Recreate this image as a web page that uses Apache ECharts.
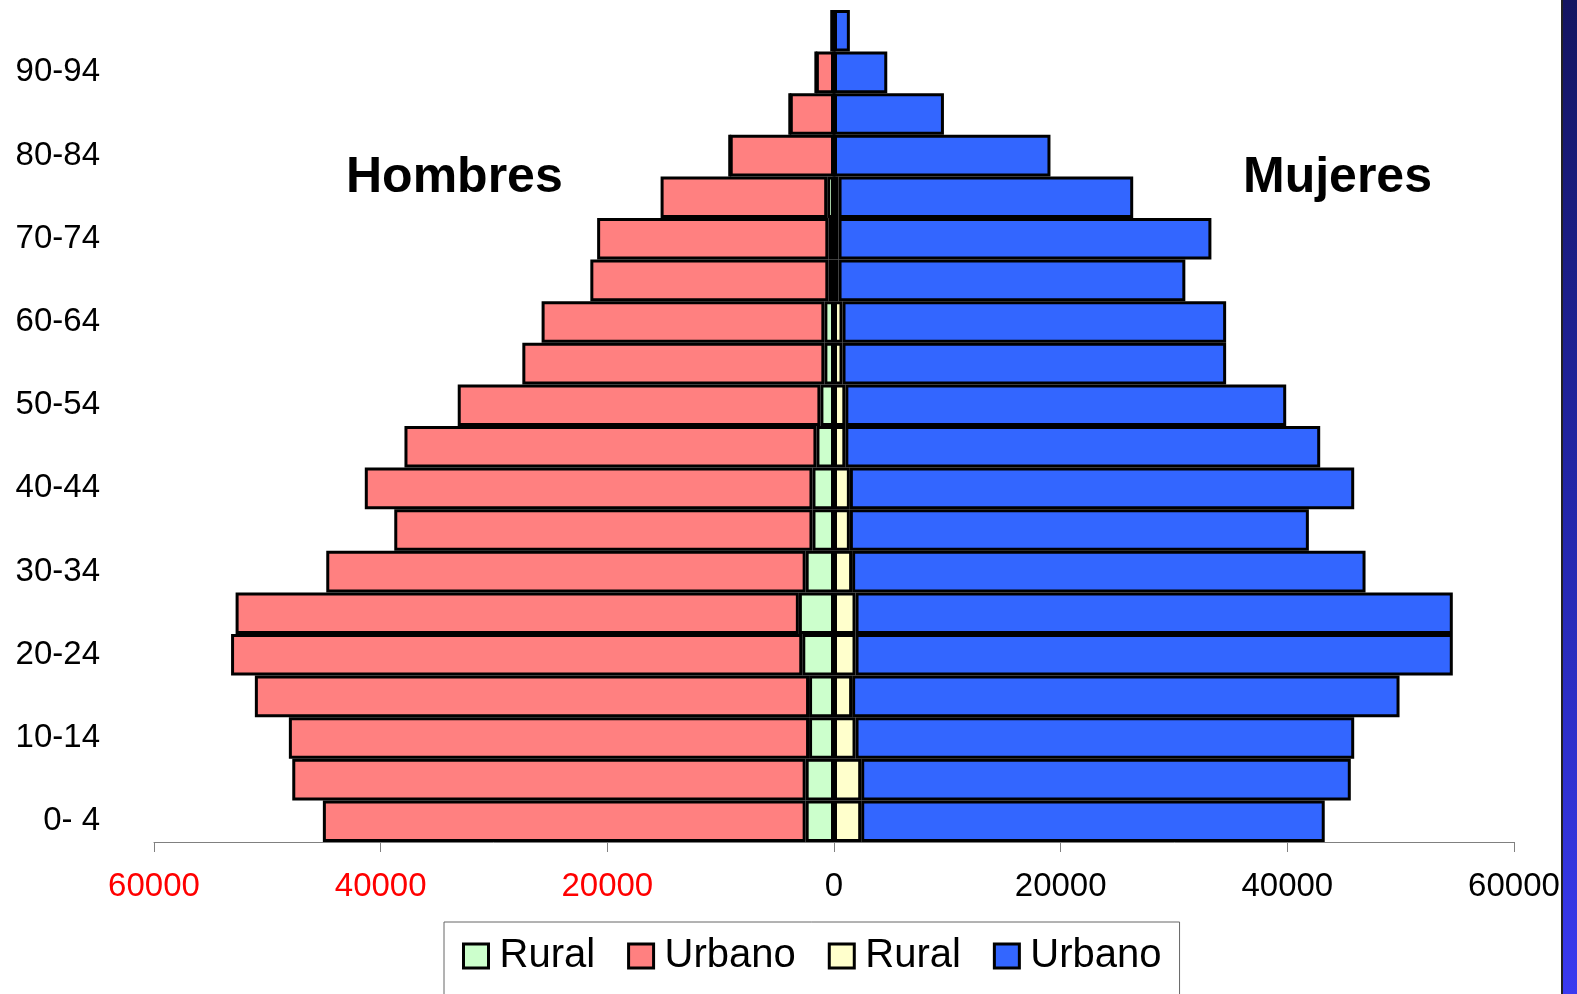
<!DOCTYPE html>
<html>
<head>
<meta charset="utf-8">
<title>Pirámide de población</title>
<script src="https://cdn.jsdelivr.net/npm/echarts@6/dist/echarts.min.js"></script>
<style>
  html, body { margin: 0; padding: 0; background: #fff; }
  #chart { width: 1577px; height: 994px; }
</style>
</head>
<body>
<div id="chart"></div>
<script>
'use strict';

// age groups, bottom to top
const ageGroups = ['0- 4', '5-9', '10-14', '15-19', '20-24', '25-29', '30-34', '35-39', '40-44', '45-49',
    '50-54', '55-59', '60-64', '65-69', '70-74', '75-79', '80-84', '85-89', '90-94', '95+'];

// men (drawn to the left)
const hombresRural = [2500, 2500, 2200, 2200, 2800, 3100, 2500, 1900, 1900, 1550,
    1200, 850, 850, 500, 500, 600, 0, 0, 0, 0];
const hombresUrbano = [42600, 45300, 45900, 48900, 50400, 49700, 42300, 36900, 39500, 36350,
    32000, 26650, 24950, 21000, 20400, 14700, 9200, 3900, 1600, 200];

// women (drawn to the right)
const mujeresRural = [2400, 2400, 1900, 1600, 1900, 1900, 1600, 1400, 1400, 1000,
    1000, 750, 750, 400, 400, 400, 0, 0, 0, 0];
const mujeresUrbano = [40900, 43200, 44000, 48300, 52700, 52700, 45300, 40500, 44500, 41900,
    38900, 33850, 33850, 30600, 32900, 26000, 19100, 9700, 4700, 1400];

const xTicks = { min: -60000, max: 60000, step: 20000 };

const FONT = 'Liberation Sans, Arial, sans-serif';

const neg = arr => arr.map(v => -v);

const barSeries = (name, data, color) => ({
    name,
    type: 'bar',
    stack: 'total',
    data,
    barCategoryGap: '0%',
    itemStyle: { color, borderColor: '#000', borderWidth: 3 },
    emphasis: { disabled: true }
});

const chart = echarts.init(document.getElementById('chart'));

chart.setOption({
    animation: false,
    textStyle: { fontFamily: FONT },
    grid: { left: 154, right: 63, top: 10, bottom: 152, containLabel: false },
    xAxis: {
        type: 'value',
        min: xTicks.min,
        max: xTicks.max,
        interval: xTicks.step,
        splitLine: { show: false },
        axisLine: { show: true, lineStyle: { color: '#808080', width: 1 } },
        axisTick: { show: true, length: 10, lineStyle: { color: '#808080' } },
        axisLabel: {
            margin: 28,
            fontSize: 33,
            color: '#000',
            formatter: v => v < 0 ? '{neg|' + Math.abs(v) + '}' : String(v),
            rich: { neg: { color: '#ff0000', fontSize: 33 } }
        }
    },
    yAxis: {
        type: 'category',
        data: ageGroups,
        axisLine: { show: false },
        axisTick: { show: false },
        axisLabel: { interval: 1, margin: 54, fontSize: 33, color: '#000' }
    },
    legend: {
        left: 444,
        top: 922,
        orient: 'horizontal',
        padding: [14, 18, 40, 18],
        itemGap: 32,
        itemWidth: 25,
        itemHeight: 24,
        icon: 'rect',
        borderColor: '#666',
        borderWidth: 1,
        selectedMode: false,
        itemStyle: { borderWidth: 3, borderColor: '#000' },
        textStyle: { fontSize: 40, color: '#000', padding: [0, 0, 0, 6] },
        formatter: name => name.split(' ')[0],
        data: ['Rural H', 'Urbano H', 'Rural M', 'Urbano M']
    },
    series: [
        barSeries('Rural H', neg(hombresRural), '#ccffcc'),
        barSeries('Urbano H', neg(hombresUrbano), '#ff8080'),
        barSeries('Rural M', mujeresRural, '#ffffcc'),
        barSeries('Urbano M', mujeresUrbano, '#3366ff')
    ],
    graphic: [
        {
            type: 'text', left: 346, top: 153,
            style: { text: 'Hombres', fontSize: 50, fontWeight: 'bold', fill: '#000', fontFamily: FONT }
        },
        {
            type: 'text', left: 1243, top: 153,
            style: { text: 'Mujeres', fontSize: 50, fontWeight: 'bold', fill: '#000', fontFamily: FONT }
        },
        // slide border on the right edge
        {
            type: 'rect', left: 1561, top: 0,
            shape: { width: 2, height: 994 },
            style: { fill: '#222' }
        },
        {
            type: 'rect', left: 1563, top: 0,
            shape: { width: 14, height: 994 },
            style: {
                fill: new echarts.graphic.LinearGradient(0, 0, 0, 1, [
                    { offset: 0, color: '#141560' },
                    { offset: 0.5, color: '#2326a8' },
                    { offset: 1, color: '#3a3af0' }
                ])
            }
        }
    ]
});
</script>
</body>
</html>
